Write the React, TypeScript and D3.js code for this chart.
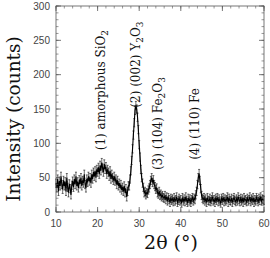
import { useMemo } from "react";
import * as d3 from "d3";

const WIDTH = 270;
const HEIGHT = 258;
const MARGIN = { top: 6, right: 6, bottom: 46, left: 56 };

// 2-theta from 10 to 60 in 0.2 steps
const X_START = 10;
const X_STEP = 0.2;
const counts = [
  42, 35, 48, 30, 45, 38, 52, 40, 33, 46,
  38, 44, 30, 50, 36, 28, 41, 34, 25, 39,
  45, 36, 48, 40, 52, 38, 44, 35, 47, 41,
  50, 38, 46, 42, 55, 40, 35, 48, 43, 52,
  45, 50, 42, 55, 48, 58, 52, 60, 50, 62,
  58, 65, 55, 68, 60, 72, 64, 58, 70, 62,
  66, 55, 62, 58, 52, 60, 48, 55, 50, 46,
  52, 45, 48, 40, 46, 38, 42, 35, 40, 32,
  36, 30, 38, 28, 34, 22, 30, 38, 38, 48,
  60, 75, 92, 112, 130, 148, 155, 150, 138, 120,
  98, 80, 62, 50, 42, 36, 28, 30, 25, 28,
  27, 32, 35, 40, 46, 50, 43, 47, 40, 37,
  33, 35, 28, 26, 30, 24, 26, 22, 24, 21,
  20, 24, 18, 22, 16, 21, 18, 14, 20, 17,
  19, 15, 21, 16, 18, 22, 14, 17, 20, 16,
  18, 13, 21, 16, 19, 15, 22, 17, 14, 20,
  16, 19, 14, 18, 21, 16, 20, 18, 25, 30,
  40, 50, 56, 46, 34, 24, 20, 18, 21, 16,
  19, 14, 21, 17, 16, 20, 15, 18, 22, 16,
  18, 14, 20, 17, 21, 15, 19, 16, 13, 20,
  17, 21, 15, 19, 16, 18, 22, 14, 20, 17,
  16, 20, 14, 18, 21, 17, 15, 19, 16, 22,
  18, 15, 20, 16, 19, 14, 21, 17, 18, 15,
  20, 16, 18, 22, 15, 19, 17, 21, 14, 18,
  16, 21, 18, 15, 20, 17, 22, 16, 19, 18,
  17,
];
const ERROR = 6;

const xTicks = [10, 20, 30, 40, 50, 60];
const yTicks = [0, 50, 100, 150, 200, 250, 300];

// label anchor: peak position (2θ) and count where the text starts
const peakLabels = [
  { x: 20.6, y: 90, id: "(1) amorphous SiO", sub: "2", rest: "", sub2: "" },
  { x: 29.2, y: 152, id: "(2) (002) Y", sub: "2", rest: "O", sub2: "3" },
  { x: 34.5, y: 61, id: "(3) (104) Fe", sub: "2", rest: "O", sub2: "3" },
  { x: 43.2, y: 76, id: "(4) (110) Fe", sub: "", rest: "", sub2: "" },
];

const SERIF = "'DejaVu Serif', 'Liberation Serif', serif";
const SANS = "'Liberation Sans', Arial, sans-serif";

export default function App() {
  const boundsW = WIDTH - MARGIN.left - MARGIN.right;
  const boundsH = HEIGHT - MARGIN.top - MARGIN.bottom;

  const xScale = useMemo(
    () => d3.scaleLinear().domain([10, 60]).range([0, boundsW]),
    [boundsW]
  );
  const yScale = useMemo(
    () => d3.scaleLinear().domain([0, 300]).range([boundsH, 0]),
    [boundsH]
  );

  const points = counts.map((c, i) => ({ x: X_START + i * X_STEP, y: c }));
  const linePath = d3
    .line<{ x: number; y: number }>()
    .x((d) => xScale(d.x))
    .y((d) => yScale(d.y))(points);

  const xMinor = d3.range(10, 60.01, 2);
  const yMinor = d3.range(0, 300.01, 10);

  return (
    <svg
      width={WIDTH}
      height={HEIGHT}
      style={{ position: "absolute", left: 0, top: 0, background: "#fff" }}
    >
      <g transform={`translate(${MARGIN.left}, ${MARGIN.top})`}>
        {/* error bars */}
        {points.map((p, i) => (
          <g key={i} stroke="#111" strokeWidth={0.6}>
            <line
              x1={xScale(p.x)}
              x2={xScale(p.x)}
              y1={yScale(p.y - ERROR)}
              y2={yScale(p.y + ERROR)}
            />
            <line
              x1={xScale(p.x) - 1}
              x2={xScale(p.x) + 1}
              y1={yScale(p.y + ERROR)}
              y2={yScale(p.y + ERROR)}
            />
            <line
              x1={xScale(p.x) - 1}
              x2={xScale(p.x) + 1}
              y1={yScale(p.y - ERROR)}
              y2={yScale(p.y - ERROR)}
            />
          </g>
        ))}
        <path d={linePath ?? ""} fill="none" stroke="#000" strokeWidth={1.1} />

        {/* frame */}
        <rect
          x={0}
          y={0}
          width={boundsW}
          height={boundsH}
          fill="none"
          stroke="#555"
          strokeWidth={0.8}
        />
        {/* minor ticks */}
        {xMinor.map((t) => (
          <g key={"xm" + t} stroke="#555" strokeWidth={0.6}>
            <line x1={xScale(t)} x2={xScale(t)} y1={boundsH} y2={boundsH - 2.5} />
            <line x1={xScale(t)} x2={xScale(t)} y1={0} y2={2.5} />
          </g>
        ))}
        {yMinor.map((t) => (
          <g key={"ym" + t} stroke="#555" strokeWidth={0.6}>
            <line x1={0} x2={2.5} y1={yScale(t)} y2={yScale(t)} />
            <line x1={boundsW} x2={boundsW - 2.5} y1={yScale(t)} y2={yScale(t)} />
          </g>
        ))}
        {/* major ticks and labels */}
        {xTicks.map((t) => (
          <g key={"x" + t}>
            <line x1={xScale(t)} x2={xScale(t)} y1={boundsH} y2={boundsH - 5} stroke="#555" strokeWidth={0.8} />
            <line x1={xScale(t)} x2={xScale(t)} y1={0} y2={5} stroke="#555" strokeWidth={0.8} />
            <text
              x={xScale(t)}
              y={boundsH + 15}
              textAnchor="middle"
              fontFamily={SANS}
              fontSize={10}
              fill="#444"
            >
              {t}
            </text>
          </g>
        ))}
        {yTicks.map((t) => (
          <g key={"y" + t}>
            <line x1={0} x2={5} y1={yScale(t)} y2={yScale(t)} stroke="#555" strokeWidth={0.8} />
            <line x1={boundsW} x2={boundsW - 5} y1={yScale(t)} y2={yScale(t)} stroke="#555" strokeWidth={0.8} />
            <text
              x={-6}
              y={yScale(t) + 3.5}
              textAnchor="end"
              fontFamily={SANS}
              fontSize={10}
              fill="#444"
            >
              {t}
            </text>
          </g>
        ))}

        {/* peak annotations */}
        {peakLabels.map((l, i) => (
          <text
            key={i}
            transform={`translate(${xScale(l.x) + 4.5}, ${yScale(l.y)}) rotate(-90)`}
            fontFamily={SERIF}
            fontSize={12}
            fill="#111"
          >
            {l.id}
            {l.sub && (
              <tspan fontSize={9} dy={3}>
                {l.sub}
              </tspan>
            )}
            {l.rest && <tspan dy={-3}>{l.rest}</tspan>}
            {l.sub2 && (
              <tspan fontSize={9} dy={3}>
                {l.sub2}
              </tspan>
            )}
          </text>
        ))}
      </g>

      {/* axis titles */}
      <text
        transform={`translate(20, ${MARGIN.top + boundsH / 2 + 10}) rotate(-90)`}
        textAnchor="middle"
        fontFamily={SERIF}
        fontSize={18.5}
        fill="#111"
      >
        Intensity (counts)
      </text>
      <text
        x={171}
        y={249}
        textAnchor="middle"
        fontFamily={SERIF}
        fontSize={19}
        fill="#111"
      >
        2θ (°)
      </text>
    </svg>
  );
}
